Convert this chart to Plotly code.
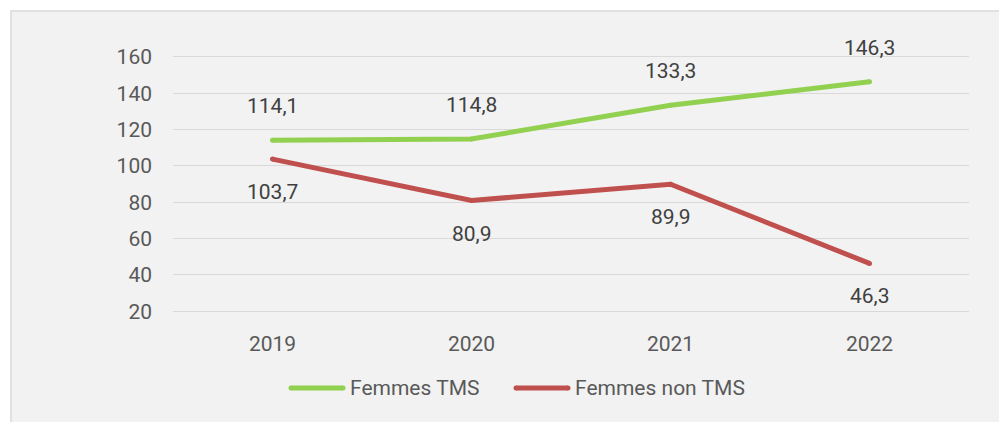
import plotly.graph_objects as go

years = ["2019", "2020", "2021", "2022"]
femmes_tms = [114.1, 114.8, 133.3, 146.3]
femmes_non_tms = [103.7, 80.9, 89.9, 46.3]
series_names = ["Femmes TMS", "Femmes non TMS"]
y_ticks = [20, 40, 60, 80, 100, 120, 140, 160]

GREEN = "#92D050"
RED = "#C0504D"
FONT = "Roboto"
FS = 21

OFF = 8  # page body margin
W, H = 1007 - OFF, 422 - OFF
L, R, T, B = 173 - OFF, 38, 47, 109
pw, ph = W - L - R, H - T - B


def px_x(px):
    return (px - OFF - L) / pw


def px_y(py):
    return (H - B - (py - OFF)) / ph


def fmt(v):
    return f"{v:.1f}".replace(".", ",")


fig = go.Figure()
for name, vals, col in [(series_names[0], femmes_tms, GREEN), (series_names[1], femmes_non_tms, RED)]:
    fig.add_trace(go.Scatter(
        x=years, y=vals, name=name, mode="lines+markers",
        line=dict(color=col, width=5),
        marker=dict(color=col, size=5, line=dict(width=0)),
        showlegend=False, hoverinfo="skip",
    ))

annotations = []
for i, v in enumerate(femmes_tms):
    annotations.append(dict(x=i, y=v, xref="x", yref="y", text=fmt(v), showarrow=False, yshift=34,
                            font=dict(family=FONT, size=FS, color="#404040")))
for i, v in enumerate(femmes_non_tms):
    annotations.append(dict(x=i, y=v, xref="x", yref="y", text=fmt(v), showarrow=False, yshift=-33,
                            font=dict(family=FONT, size=FS, color="#404040")))

shapes = [dict(type="rect", xref="paper", yref="paper", layer="below",
               x0=px_x(11), x1=px_x(1012), y0=px_y(430), y1=px_y(11),
               fillcolor="#F2F2F2", line=dict(color="#D9D9D9", width=1.5))]

# legend
leg_y = px_y(388)
for (x0, x1, xt), name, col in [((289, 345, 348), series_names[0], GREEN),
                                 ((514, 570, 573), series_names[1], RED)]:
    shapes.append(dict(type="line", xref="paper", yref="paper",
                       x0=px_x(x0 + 2), x1=px_x(x1 - 2), y0=leg_y, y1=leg_y,
                       line=dict(color=col, width=5)))
    for xc in (x0 + 2, x1 - 2):
        shapes.append(dict(type="circle", xref="paper", yref="paper",
                           xsizemode="pixel", ysizemode="pixel",
                           xanchor=px_x(xc), yanchor=leg_y,
                           x0=-2.5, x1=2.5, y0=-2.5, y1=2.5,
                           fillcolor=col, line=dict(width=0)))
    annotations.append(dict(x=px_x(xt), y=leg_y, xref="paper", yref="paper",
                            text=name, showarrow=False, xanchor="left", yanchor="middle",
                            font=dict(family=FONT, size=FS, color="#595959")))

fig.update_layout(
    width=W, height=H,
    margin=dict(l=L, r=R, t=T, b=B),
    paper_bgcolor="white",
    plot_bgcolor="rgba(0,0,0,0)",
    font=dict(family=FONT, size=FS, color="#595959"),
    shapes=shapes,
    annotations=annotations,
    showlegend=False,
)
fig.update_xaxes(
    type="category", range=[-0.5, 3.5], showgrid=False, zeroline=False,
    showline=False, ticks="", ticklabelstandoff=16,
    tickfont=dict(family=FONT, size=FS, color="#595959"),
)
fig.update_yaxes(
    range=[19, 161], tickvals=y_ticks, showgrid=True, gridcolor="#D9D9D9",
    gridwidth=1.3, zeroline=False, showline=False, ticks="",
    ticklabelstandoff=20,
    tickfont=dict(family=FONT, size=FS, color="#595959"),
)

fig.write_html("out.html")
